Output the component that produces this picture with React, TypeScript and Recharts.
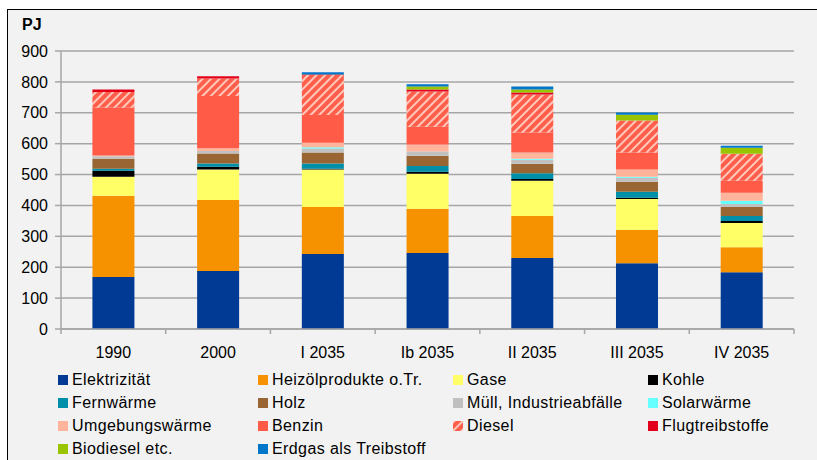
import React from "react";
import {
  BarChart,
  Bar,
  XAxis,
  YAxis,
  CartesianGrid,
  Legend,
} from "recharts";

const categories = ["1990", "2000", "I 2035", "Ib 2035", "II 2035", "III 2035", "IV 2035"];

const elektrizitaet = [168, 188, 243, 246, 230, 213, 184];
const heizoel = [263, 230, 152, 143, 136, 108, 81];
const gase = [62, 98, 121, 114, 114, 100, 78];
const kohle = [19, 9, 3, 6, 6, 4, 7];
const fernwaerme = [7, 11, 17, 19, 18, 19, 16];
const holz = [32, 32, 35, 33, 31, 33, 29];
const muell = [8, 8, 13, 14, 13, 13, 10];
const solarwaerme = [0, 0, 4, 0, 3, 3, 10];
const umgebung = [3, 9, 15, 22, 20, 23, 26];
const benzin = [155, 169, 90, 58, 65, 55, 39];
const diesel = [50, 57, 129, 114, 123, 104, 87];
const flug = [8, 7, 2, 6, 7, 0, 0];
const biodiesel = [0, 0, 0, 10, 9, 19, 20];
const erdgas = [0, 0, 7, 7, 10, 7, 6];

const yTicks = [0, 100, 200, 300, 400, 500, 600, 700, 800, 900];

const series = [
  { key: "Elektrizität", values: elektrizitaet, fill: "#003A94" },
  { key: "Heizölprodukte o.Tr.", values: heizoel, fill: "#F69200" },
  { key: "Gase", values: gase, fill: "#FFFF66" },
  { key: "Kohle", values: kohle, fill: "#000000" },
  { key: "Fernwärme", values: fernwaerme, fill: "#008FA8" },
  { key: "Holz", values: holz, fill: "#996633" },
  { key: "Müll, Industrieabfälle", values: muell, fill: "#C0C0C0" },
  { key: "Solarwärme", values: solarwaerme, fill: "#66FFFF" },
  { key: "Umgebungswärme", values: umgebung, fill: "#FFB49B" },
  { key: "Benzin", values: benzin, fill: "#FF5B47" },
  { key: "Diesel", values: diesel, fill: "url(#dieselHatch)" },
  { key: "Flugtreibstoffe", values: flug, fill: "#E2001A" },
  { key: "Biodiesel etc.", values: biodiesel, fill: "#99C400" },
  { key: "Erdgas als Treibstoff", values: erdgas, fill: "#0077C8" },
];

const data = categories.map((c, i) => {
  const row: Record<string, string | number> = { name: c };
  series.forEach((s) => {
    row[s.key] = s.values[i];
  });
  return row;
});

const FONT = '"Liberation Sans", Arial, sans-serif';
const GRID = "#A6A6A6";

// category label plus a small tick at the left edge of each band (and right of the last)
function XTick(props: any) {
  const { x, y, payload, width, visibleTicksCount, index } = props;
  const bw = width / visibleTicksCount;
  const axisY = y - 18;
  return (
    <g>
      <line x1={x - bw / 2} x2={x - bw / 2} y1={axisY} y2={axisY + 5} stroke={GRID} strokeWidth={1.5} />
      {index === visibleTicksCount - 1 && (
        <line x1={x + bw / 2} x2={x + bw / 2} y1={axisY} y2={axisY + 5} stroke={GRID} strokeWidth={1.5} />
      )}
      <text x={x} y={y} dy="0.71em" textAnchor="middle" fill="#000" fontSize={16} fontFamily={FONT}>
        {payload.value}
      </text>
    </g>
  );
}

function LegendGrid() {
  const cols = [200, 195, 195, 195];
  return (
    <div
      style={{
        display: "grid",
        gridTemplateColumns: cols.map((c) => c + "px").join(" "),
        rowGap: 5,
        fontFamily: FONT,
        fontSize: 16,
        letterSpacing: 0.4,
        color: "#000",
      }}
    >
      {series.map((s) => (
        <div key={s.key} style={{ display: "flex", alignItems: "center", height: 18, whiteSpace: "nowrap" }}>
          <svg width={10} height={10} style={{ marginRight: 4, flex: "none" }}>
            <rect width={10} height={10} fill={s.fill} />
          </svg>
          <span>{s.key}</span>
        </div>
      ))}
    </div>
  );
}

export default function App() {
  return (
    <div style={{ position: "absolute", left: 0, top: 0, width: 817, height: 460, background: "#fff", overflow: "hidden" }}>
      <div
        style={{
          position: "absolute",
          left: 7,
          top: 9,
          width: 840,
          height: 480,
          border: "1px solid #000",
          background: "#F2F2F2",
        }}
      />
      <div
        style={{
          position: "absolute",
          left: 22,
          top: 16,
          fontFamily: FONT,
          fontWeight: "bold",
          fontSize: 16,
          color: "#000",
        }}
      >
        PJ
      </div>
      <div style={{ position: "absolute", left: 0, top: 0 }}>
        <BarChart
          width={817}
          height={460}
          data={data}
          margin={{ top: 51, right: 23, left: 0, bottom: 101 }}
          barCategoryGap="30%"
        >
          <defs>
            <pattern id="dieselHatch" width="6" height="6" patternUnits="userSpaceOnUse" patternTransform="rotate(45)">
              <rect width="6" height="6" fill="#FF5E4A" />
              <rect width="2" height="6" fill="#FFC8BC" />
            </pattern>
          </defs>
          <CartesianGrid vertical={false} stroke={GRID} strokeWidth={1.5} />
          <XAxis
            dataKey="name"
            height={30}
            axisLine={{ stroke: GRID, strokeWidth: 1.5 }}
            tickLine={false}
            tickSize={0}
            tickMargin={18}
            interval={0}
            tick={<XTick />}
          />
          <YAxis
            width={61}
            domain={[0, 900]}
            ticks={yTicks}
            interval={0}
            axisLine={{ stroke: GRID, strokeWidth: 1.5 }}
            tickLine={{ stroke: GRID, strokeWidth: 1.5 }}
            tickSize={6}
            tickMargin={7}
            tick={{ fill: "#000", fontSize: 16, fontFamily: FONT }}
          />
          <YAxis
            yAxisId="frame"
            orientation="right"
            width={0}
            tick={false}
            tickLine={false}
            axisLine={{ stroke: GRID, strokeWidth: 1.5 }}
          />
          <Legend
            layout="vertical"
            align="center"
            verticalAlign="middle"
            wrapperStyle={{ left: 58, top: 371, width: 790 }}
            content={() => <LegendGrid />}
          />
          {series.map((s) => (
            <Bar key={s.key} dataKey={s.key} stackId="pj" fill={s.fill} isAnimationActive={false} />
          ))}
        </BarChart>
      </div>
    </div>
  );
}
